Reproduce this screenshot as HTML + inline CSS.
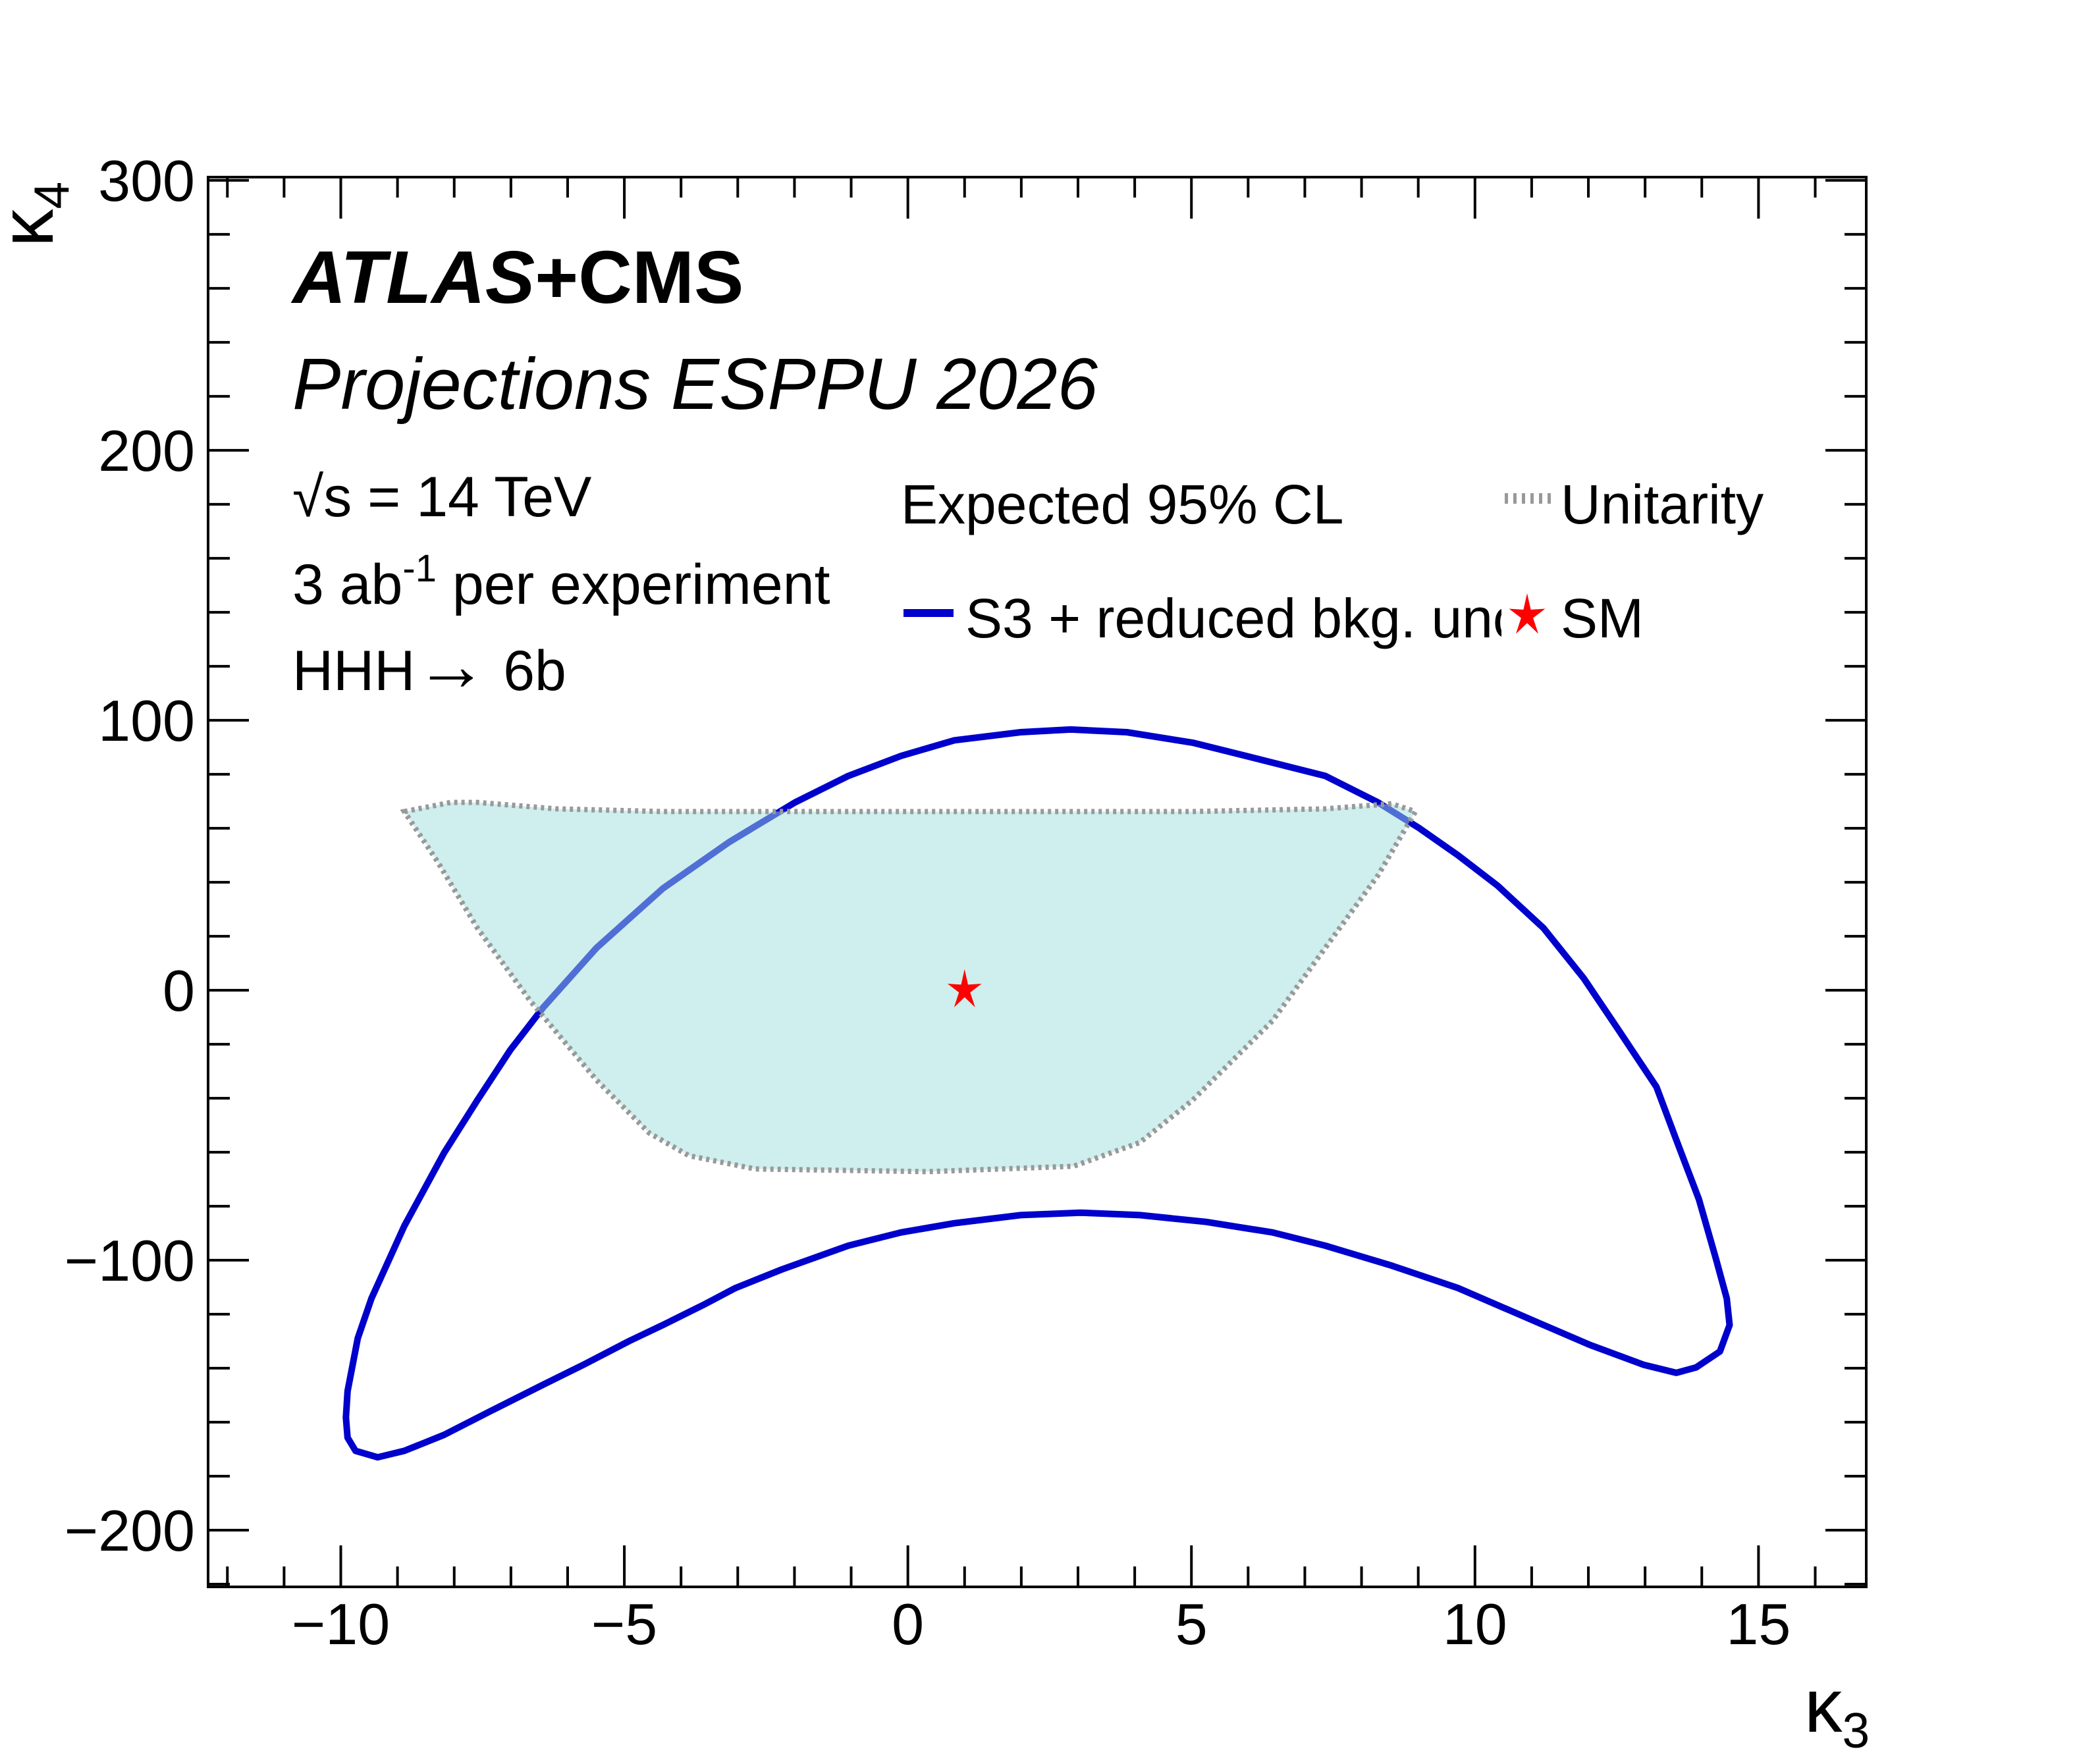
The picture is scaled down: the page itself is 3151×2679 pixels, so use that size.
<!DOCTYPE html>
<html><head><meta charset="utf-8"><style>
html,body{margin:0;padding:0;background:#fff;}
svg{display:block;font-family:"Liberation Sans",Arial,sans-serif;}
</style></head><body>
<svg id="chart" width="3151" height="2679" viewBox="0 0 3151 2679" xmlns="http://www.w3.org/2000/svg">
<rect x="0" y="0" width="3151" height="2679" fill="#fff"/>
<g id="plot"></g>
<g id="axes"></g>
<g>
<text x="444" y="460" font-size="113" font-weight="bold"><tspan font-style="italic">ATLAS</tspan>+CMS</text>
<text x="444" y="621" font-size="110" font-style="italic">Projections ESPPU 2026</text>
<text x="444" y="784" font-size="86">√s = 14 TeV</text>
<text x="444" y="917" font-size="86">3 ab<tspan dy="-34" font-size="58">-1</tspan><tspan dy="34"> per experiment</tspan></text>
<text x="444" y="1048" font-size="86">HHH<tspan font-size="110">→</tspan> 6b</text>
</g>
<g>
<text x="1368" y="795" font-size="84">Expected 95% CL</text>
<line x1="2285" y1="757" x2="2357" y2="757" stroke="#999" stroke-width="16" stroke-dasharray="5,8"/>
<text x="2370" y="795" font-size="84">Unitarity</text>
<line x1="1372" y1="931" x2="1448" y2="931" stroke="#0000cc" stroke-width="12"/>
<clipPath id="legclip"><rect x="1450" y="850" width="830" height="200"/></clipPath>
<text x="1466" y="968" font-size="84" clip-path="url(#legclip)">S3 + reduced bkg. unc.</text>
<text x="2370" y="968" font-size="84">SM</text>
</g>
<text x="2740" y="2630" font-size="115">κ<tspan dy="24" font-size="75">3</tspan></text>
<text transform="translate(80,375) rotate(-90)" font-size="115">κ<tspan dy="24" font-size="75">4</tspan></text>
</svg>
<script>
const xTickValues=[-10,-5,0,5,10,15];
const xTickLabels=["\u221210","\u22125","0","5","10","15"];
const yTickValues=[-200,-100,0,100,200,300];
const yTickLabels=["\u2212200","\u2212100","0","100","200","300"];
const contourK3=[-9.88,-9.74,-9.35,-8.88,-8.18,-7.36,-6.43,-5.72,-4.91,-4.32,-3.62,-3.04,-2.22,-1.05,-0.12,0.82,1.99,3.04,4.09,5.26,6.43,7.36,8.53,9.70,11.10,12.03,12.97,13.55,13.90,14.32,14.49,14.44,14.25,13.95,13.55,13.20,12.50,11.92,11.21,10.40,9.70,9.00,8.29,7.36,5.96,5.02,3.86,2.87,1.99,0.82,-0.12,-1.05,-1.99,-3.15,-4.32,-5.49,-6.43,-7.01,-7.59,-8.18,-8.88,-9.46,-9.70,-9.88,-9.91];
const contourK4=[-165.7,-170.6,-173.0,-170.6,-164.7,-155.9,-146.1,-138.7,-129.9,-124.0,-116.7,-110.3,-103.4,-94.6,-89.7,-86.3,-83.3,-82.4,-83.3,-85.8,-89.7,-94.6,-102.0,-110.3,-123.0,-131.4,-138.7,-141.7,-139.7,-133.8,-124.0,-114.2,-99.5,-77.5,-55.4,-35.8,-13.7,4.4,23.0,38.7,50.0,60.3,69.6,79.4,86.8,91.7,95.6,96.6,95.6,92.6,86.8,79.4,69.6,54.9,37.7,15.7,-6.4,-22.1,-40.7,-60.3,-87.3,-114.2,-128.9,-148.5,-158.3];
const unitK3=[-8.88,-8.06,-7.59,-6.19,-4.32,0.35,5.02,7.36,8.53,8.95,8.29,7.36,6.43,5.02,4.09,2.92,0.35,-2.69,-3.86,-4.56,-5.49,-6.66,-7.59,-8.29];
const unitK4=[66.2,69.6,69.6,67.2,66.2,66.2,66.2,67.2,69.1,66.2,42.6,15.7,-11.3,-40.7,-56.4,-65.2,-67.2,-66.2,-61.3,-52.9,-33.3,-3.9,23.0,47.5];
const smPoint=[1,0];

const NS="http://www.w3.org/2000/svg";
const L=316,R=2834,T=269,B=2410;
const X0=-12.34,X1=16.90,Y0=-221.0,Y1=301.2;
function px(v){return L+(v-X0)/(X1-X0)*(R-L);}
function py(v){return B-(v-Y0)/(Y1-Y0)*(B-T);}
function mk(tag,attrs,parent){const e=document.createElementNS(NS,tag);for(const k in attrs)e.setAttribute(k,attrs[k]);parent.appendChild(e);return e;}
const plot=document.getElementById('plot');
const axes=document.getElementById('axes');

const cpts=contourK3.map((k,i)=>px(k).toFixed(1)+','+py(contourK4[i]).toFixed(1)).join(' ');
const cont=mk('polygon',{points:cpts,fill:'none',stroke:'#0000cc','stroke-width':10,'stroke-linejoin':'round'},plot);


const upts=unitK3.map((k,i)=>px(k).toFixed(1)+','+py(unitK4[i]).toFixed(1)).join(' ');
const uf=mk('polygon',{points:upts,fill:'rgba(160,222,222,0.5)',stroke:'none'},plot);


const ub=mk('polygon',{points:upts,fill:'none',stroke:'#999','stroke-width':8,'stroke-dasharray':'5,6'},plot);



function star(cx,cy,r,name){
  let p=[];for(let i=0;i<10;i++){const a=-Math.PI/2+i*Math.PI/5;const rr=i%2?r*0.33:r;p.push((cx+rr*Math.cos(a)*0.85).toFixed(1)+','+(cy+rr*Math.sin(a)).toFixed(1));}
  const s=mk('polygon',{points:p.join(' '),fill:'#ff0000'},document.getElementById('chart'));
  
  
}
star(px(smPoint[0]),py(smPoint[1]),32,'sm-marker');
star(2319,935,34,'legend-sm-marker');

const fr=mk('rect',{x:L,y:T,width:R-L,height:B-T,fill:'none',stroke:'#000','stroke-width':4},axes);


for(let v=-12;v<=16;v++){
  const major=v%5===0,len=major?63:31,x=px(v);
  const t=mk('line',{x1:x,y1:B,x2:x,y2:B-len,stroke:'#000','stroke-width':4},axes);
  
  
  const t2=mk('line',{x1:x,y1:T,x2:x,y2:T+len,stroke:'#000','stroke-width':4},axes);
  
  
}
for(let v=-220;v<=300;v+=20){
  const major=v%100===0,len=major?62:33,y=py(v);
  const t=mk('line',{x1:L,y1:y,x2:L+len,y2:y,stroke:'#000','stroke-width':4},axes);
  
  
  const t2=mk('line',{x1:R,y1:y,x2:R-len,y2:y,stroke:'#000','stroke-width':4},axes);
  
  
}
xTickValues.forEach((v,i)=>{
  const t=mk('text',{x:px(v),y:2497,'font-size':88,'text-anchor':'middle'},axes);
  t.textContent=xTickLabels[i];
  
  
});
yTickValues.forEach((v,i)=>{
  const t=mk('text',{x:296,y:py(v)+31,'font-size':88,'text-anchor':'end'},axes);
  t.textContent=yTickLabels[i];
  
  
});
</script>
</body></html>
